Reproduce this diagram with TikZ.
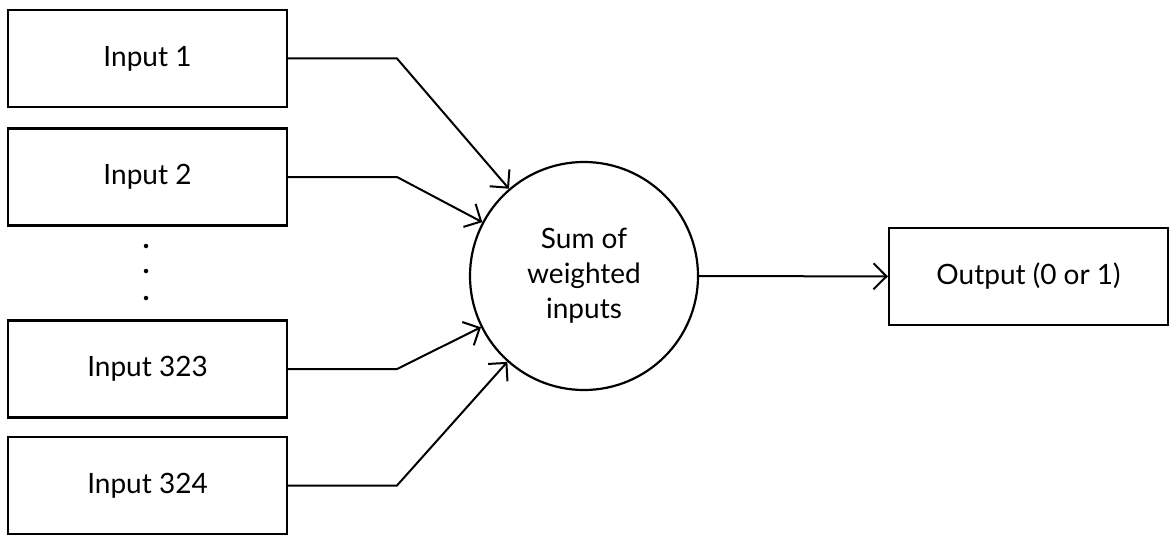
\documentclass[tikz,border=0pt]{standalone}
\usepackage{fontspec}
\setmainfont{Lato}
\usetikzlibrary{arrows.meta}
\begin{document}
\begin{tikzpicture}[x=1pt,y=-1pt,
  box/.style={draw, line width=2.2pt, minimum width=279pt, minimum height=97pt,
    inner sep=0pt, font=\fontsize{28}{35}\selectfont},
  sumnode/.style={draw, circle, line width=2.2pt, minimum size=228pt, inner sep=0pt,
    align=center, font=\fontsize{28}{35}\selectfont},
  link/.style={line width=2pt, -{Straight Barb[length=13pt,width=26pt,line width=2pt]}},
  dotmark/.style={circle, fill, inner sep=0pt, minimum size=4.5pt}]
\useasboundingbox (0,0) rectangle (1173,535);
\node[box] (in1) at (147.5,58.5) {Input 1};
\node[box] (in2) at (147.5,177) {Input 2};
\node[box] (in323) at (147.5,369) {Input 323};
\node[box] (in324) at (147.5,485.5) {Input 324};
\node[dotmark] (d1) at (146,246) {};
\node[dotmark] (d2) at (146,271) {};
\node[dotmark] (d3) at (146,298) {};
\node[sumnode] (sum) at (584,276) {Sum of\\weighted\\inputs};
\node[box] (out) at (1028.5,276.5) {Output (0 or 1)};
\coordinate (k) at (397,0);
\draw[link] (in1.east) -- (in1.east -| k) -- (sum);
\draw[link] (in2.east) -- (in2.east -| k) -- (sum);
\draw[link] (in323.east) -- (in323.east -| k) -- (sum);
\draw[link] (in324.east) -- (in324.east -| k) -- (sum);
\draw[link] (sum) -- (out);
\end{tikzpicture}
\end{document}
